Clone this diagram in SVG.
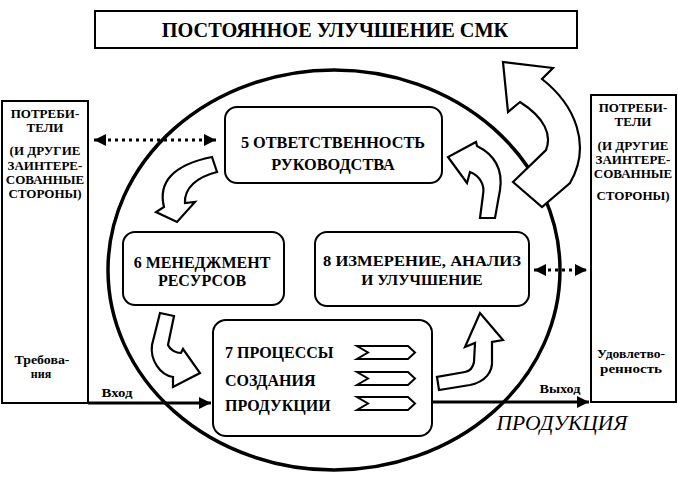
<svg xmlns="http://www.w3.org/2000/svg" width="678" height="479" viewBox="0 0 678 479">
<defs>
<style>
.box{fill:#fff;stroke:#000;stroke-width:2}
.t{font-family:'Liberation Serif','Times New Roman',Tinos,'DejaVu Serif','Noto Serif',serif;font-weight:bold;fill:#000;text-anchor:middle}
.it{font-family:'Liberation Serif','Times New Roman',Tinos,'DejaVu Serif','Noto Serif',serif;font-style:italic;fill:#000;text-anchor:middle}
.blk{fill:#fff;stroke:#000;stroke-width:2.2;stroke-linejoin:miter}
.line{stroke:#000;stroke-width:3;fill:none}
.dot{stroke:#000;stroke-width:3;fill:none;stroke-dasharray:3 4}
</style>
<marker id="ah" viewBox="0 0 10 10" refX="10" refY="5" markerWidth="4" markerHeight="4" orient="auto-start-reverse" markerUnits="strokeWidth">
<path d="M0,0 L10,5 L0,10 Z" fill="#000"/>
</marker>
</defs>
<rect width="678" height="479" fill="#fff"/>
<g id="title">
<rect class="box" x="95" y="11" width="482" height="37"/>
<text class="t" x="335" y="37" font-size="20.3">ПОСТОЯННОЕ УЛУЧШЕНИЕ СМК</text>
</g>
<g id="cycle">
<ellipse cx="334" cy="270" rx="226" ry="200" fill="none" stroke="#000" stroke-width="3.5"/>
</g>
<g id="left-party">
<rect class="box" x="2" y="101" width="86" height="302"/>
<g class="t" font-size="13">
<text x="45" y="118">ПОТРЕБИ-</text>
<text x="45" y="132">ТЕЛИ</text>
<text x="45" y="155">(И ДРУГИЕ</text>
<text x="45" y="170">ЗАИНТЕРЕ-</text>
<text x="45" y="184">СОВАННЫЕ</text>
<text x="45" y="198">СТОРОНЫ)</text>
</g>
<g class="t" font-size="12">
<text x="42" y="364" textLength="55" lengthAdjust="spacingAndGlyphs">Требова-</text>
<text x="41" y="378">ния</text>
</g>
</g>
<g id="right-party">
<rect class="box" x="591" y="95" width="85" height="307"/>
<g class="t" font-size="13">
<text x="633" y="112">ПОТРЕБИ-</text>
<text x="633" y="126">ТЕЛИ</text>
<text x="633" y="150">(И ДРУГИЕ</text>
<text x="633" y="164">ЗАИНТЕРЕ-</text>
<text x="633" y="178">СОВАННЫЕ</text>
<text x="633" y="200">СТОРОНЫ)</text>
</g>
<g class="t" font-size="12">
<text x="631" y="358" textLength="68" lengthAdjust="spacingAndGlyphs">Удовлетво-</text>
<text x="631" y="373" textLength="62" lengthAdjust="spacingAndGlyphs">ренность</text>
</g>
</g>
<g id="box5">
<rect class="box" x="225" y="107" width="217" height="76" rx="12"/>
<g class="t" font-size="16.3">
<text x="333" y="148">5 ОТВЕТСТВЕННОСТЬ</text>
<text x="333" y="170">РУКОВОДСТВА</text>
</g>
</g>
<g id="box6">
<rect class="box" x="123" y="232" width="161" height="73" rx="12"/>
<g class="t" font-size="16">
<text x="202" y="268">6 МЕНЕДЖМЕНТ</text>
<text x="202" y="286">РЕСУРСОВ</text>
</g>
</g>
<g id="box8">
<rect class="box" x="315" y="232" width="214" height="74" rx="12"/>
<g class="t" font-size="15.5">
<text x="422" y="266" textLength="198" lengthAdjust="spacingAndGlyphs">8 ИЗМЕРЕНИЕ, АНАЛИЗ</text>
<text x="422" y="285">И УЛУЧШЕНИЕ</text>
</g>
</g>
<g id="box7">
<rect class="box" x="213" y="320" width="219" height="116" rx="13"/>
<g class="t" font-size="16" style="text-anchor:start">
<text x="225" y="358">7 ПРОЦЕССЫ</text>
<text x="225" y="386">СОЗДАНИЯ</text>
<text x="225" y="411">ПРОДУКЦИИ</text>
</g>
<g fill="#fff" stroke="#000" stroke-width="2">
<path d="M357,346 L408,346 L415,352.5 L408,359 L357,359 L368,352.5 Z"/>
<path d="M357,372 L408,372 L415,378.5 L408,385 L357,385 L368,378.5 Z"/>
<path d="M357,397 L408,397 L415,403.5 L408,410 L357,410 L368,403.5 Z"/>
</g>
</g>
<g id="connectors">
<line class="line" x1="88" y1="403" x2="211" y2="403" marker-end="url(#ah)"/>
<line class="line" x1="432" y1="402" x2="589" y2="402" marker-end="url(#ah)"/>
<line class="dot" x1="94" y1="140" x2="216" y2="140" marker-start="url(#ah)" marker-end="url(#ah)"/>
<line class="dot" x1="534" y1="270" x2="587" y2="270" marker-start="url(#ah)" marker-end="url(#ah)"/>
<path class="blk" d="M212,157 L217,172 C197,177 184,188 185,203 L195,202 L177,222 L156,212 L164,207 C158,183 172,165 212,157 Z"/>
<path class="blk" d="M160,313 L174,316 L168,345 C170,350 176,353 181,353 L183,349 L200,373 L173,387 L173,377 C160,375 150,360 152,345 Z"/>
<path class="blk" d="M437,377 L439,390 L470,385 C485,382 493,372 492,360 L492,342 L503,340 L480,313 L465,347 L475,343 L474,362 C473,368 470,371 465,372 Z"/>
<path class="blk" d="M480,218 L495,218 L500,190 C503,170 495,155 477,146 L476,142 L448,157 L467,183 L470,172 C480,176 485,185 483,195 Z"/>
<path class="blk" d="M513,182 L546,150 C552,135 545,118 520,102 L508,112 L503,62 L553,68 L542,79 C575,105 592,145 570,183 L542,207 Z"/>
</g>
<g id="labels">
<text class="t" x="117" y="397" font-size="13" textLength="31" lengthAdjust="spacingAndGlyphs">Вход</text>
<text class="t" x="560" y="393" font-size="13" textLength="41" lengthAdjust="spacingAndGlyphs">Выход</text>
<text class="it" x="562" y="430" font-size="21.5">ПРОДУКЦИЯ</text>
</g>
</svg>
